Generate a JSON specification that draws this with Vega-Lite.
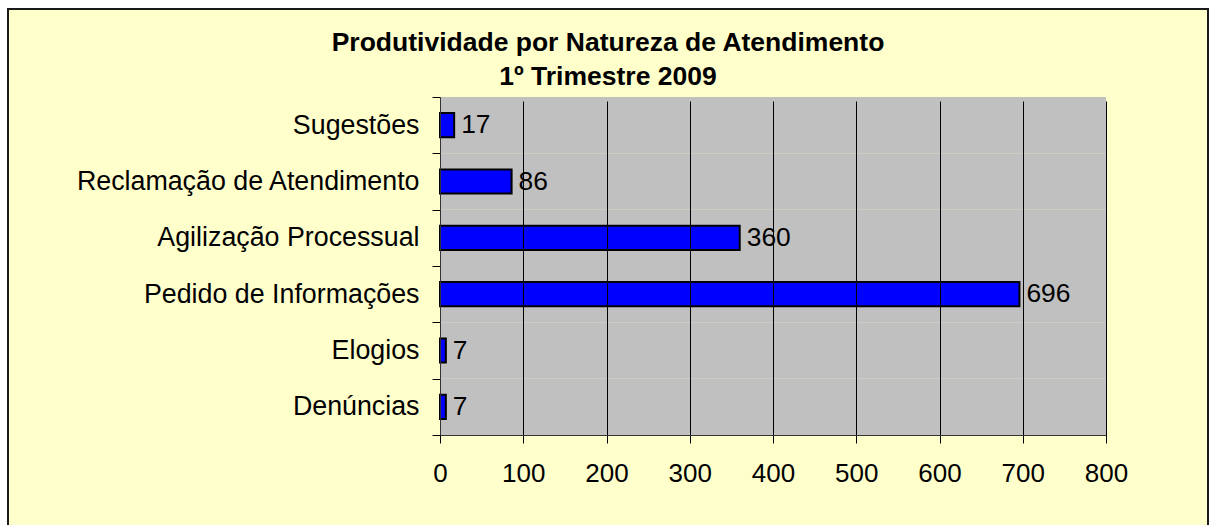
{
  "$schema": "https://vega.github.io/schema/vega-lite/v6.json",
  "width": 1200,
  "height": 518,
  "autosize": {"type": "none"},
  "padding": {"left": 8, "top": 9, "right": 1, "bottom": -2},
  "background": "white",
  "config": {
    "view": {"fill": "#FFFFCC", "stroke": "#1a1a1a", "strokeWidth": 2},
    "font": "Liberation Sans",
    "text": {"font": "Liberation Sans"}
  },
  "title": {
    "text": ["Produtividade por Natureza de Atendimento", "1º Trimestre 2009"],
    "font": "Liberation Sans",
    "fontSize": 26.5,
    "fontWeight": "bold",
    "color": "black",
    "anchor": "middle",
    "frame": "group",
    "orient": "top",
    "baseline": "top",
    "lineHeight": 34,
    "offset": -94
  },
  "data": {
    "values": [
      {"natureza": "Sugestões", "total": 17},
      {"natureza": "Reclamação de Atendimento", "total": 86},
      {"natureza": "Agilização Processual", "total": 360},
      {"natureza": "Pedido de Informações", "total": 696},
      {"natureza": "Elogios", "total": 7},
      {"natureza": "Denúncias", "total": 7}
    ]
  },
  "encoding": {
    "y": {
      "field": "natureza",
      "type": "nominal",
      "sort": null,
      "scale": {"range": [88, 426], "paddingInner": 0, "paddingOuter": 0},
      "axis": {
        "title": null,
        "offset": -432,
        "tickBand": "extent",
        "tickSize": 8,
        "tickColor": "black",
        "domainColor": "#333333",
        "labelFontSize": 26.8,
        "labelPadding": 13,
        "labelLimit": 600,
        "labelColor": "black",
        "labelFont": "Liberation Sans",
        "grid": false,
        "zindex": 1
      }
    }
  },
  "layer": [
    {
      "mark": {"type": "bar", "color": "#C0C0C0"},
      "encoding": {
        "x": {"datum": 0, "type": "quantitative"},
        "x2": {"datum": 800}
      }
    },
    {
      "mark": {"type": "bar", "color": "#0000FF", "stroke": "black", "strokeWidth": 2, "height": {"band": 0.43}},
      "encoding": {
        "x": {
          "field": "total",
          "type": "quantitative",
          "scale": {"domain": [0, 800], "range": [432, 1098], "nice": false, "zero": true},
          "axis": {
            "title": null,
            "offset": -92,
            "values": [0, 100, 200, 300, 400, 500, 600, 700, 800],
            "grid": true,
            "gridColor": "black",
            "gridOpacity": 1,
            "gridWidth": 1,
            "tickSize": 8,
            "tickColor": "black",
            "domainColor": "#333333",
            "labelFontSize": 26,
            "labelPadding": 17,
            "labelColor": "black",
            "labelFont": "Liberation Sans",
            "labelFlush": false,
            "zindex": 1
          }
        }
      }
    },
    {
      "mark": {"type": "text", "align": "left", "baseline": "middle", "dx": 7, "fontSize": 26.4, "color": "black"},
      "encoding": {
        "x": {"field": "total", "type": "quantitative"},
        "text": {"field": "total", "type": "quantitative"}
      }
    }
  ]
}
